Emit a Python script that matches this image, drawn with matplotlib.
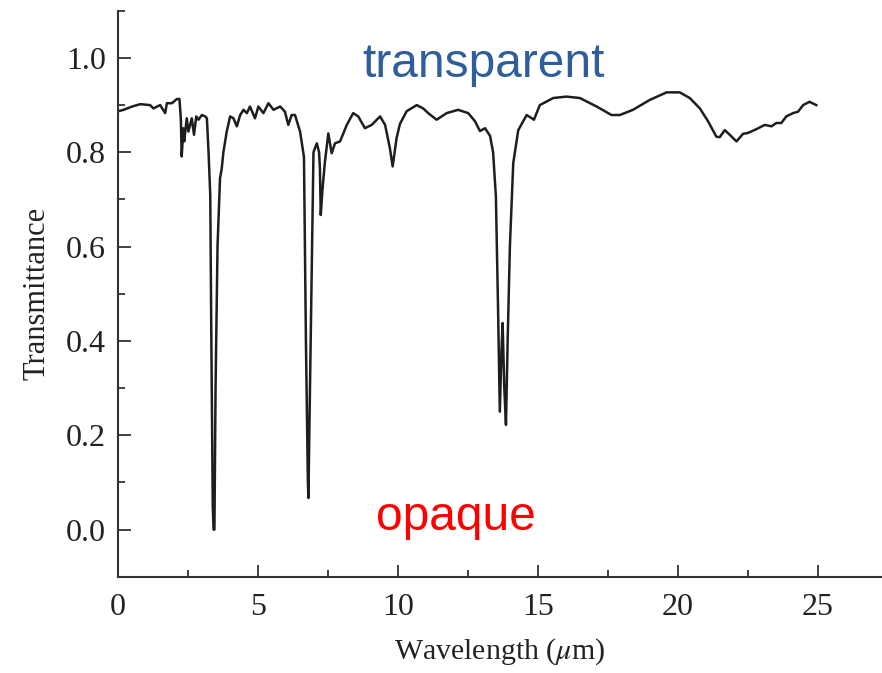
import matplotlib
matplotlib.use("Agg")
import matplotlib.pyplot as plt
from matplotlib.ticker import MultipleLocator

plt.rcParams["mathtext.fontset"] = "stix"

# --- DATA ---
wavelength = [
    0.07, 0.19, 0.50, 0.79, 1.14, 1.26, 1.50, 1.68, 1.74, 1.92, 2.10, 2.19,
    2.24, 2.27, 2.33, 2.36, 2.45, 2.51, 2.63, 2.71, 2.79, 2.87, 2.99, 3.11,
    3.17, 3.23, 3.29, 3.33, 3.38, 3.41, 3.44, 3.48, 3.55, 3.64, 3.70, 3.76,
    3.88, 4.00, 4.12, 4.24, 4.36, 4.48, 4.60, 4.71, 4.89, 5.01, 5.19, 5.37,
    5.55, 5.79, 5.96, 6.08, 6.20, 6.32, 6.50, 6.64, 6.71, 6.78, 6.80, 6.83,
    6.88, 6.98, 7.10, 7.18, 7.21, 7.24, 7.30, 7.39, 7.51, 7.63, 7.75, 7.93,
    8.17, 8.40, 8.58, 8.82, 9.06, 9.36, 9.54, 9.71, 9.81, 9.95, 10.07, 10.31,
    10.67, 10.90, 11.08, 11.38, 11.74, 12.15, 12.51, 12.75, 12.93, 13.11,
    13.29, 13.40, 13.50, 13.58, 13.64, 13.70, 13.74, 13.80, 13.86, 13.92,
    14.00, 14.12, 14.30, 14.60, 14.86, 15.07, 15.55, 16.02, 16.50, 17.10,
    17.63, 17.93, 18.40, 19.00, 19.60, 20.07, 20.43, 20.79, 21.08, 21.38,
    21.50, 21.68, 21.86, 22.10, 22.33, 22.51, 22.81, 23.11, 23.35, 23.52,
    23.70, 23.88, 24.12, 24.30, 24.48, 24.71, 24.95,
]
transmittance = [
    0.888, 0.890, 0.897, 0.902, 0.900, 0.893, 0.900, 0.883, 0.904, 0.904, 0.913, 0.913,
    0.870, 0.791, 0.851, 0.823, 0.872, 0.844, 0.872, 0.837, 0.876, 0.869, 0.879, 0.876,
    0.872, 0.800, 0.710, 0.400, 0.050, 0.000, 0.000, 0.300, 0.600, 0.745, 0.765, 0.800,
    0.844, 0.876, 0.872, 0.855, 0.879, 0.890, 0.883, 0.897, 0.872, 0.897, 0.883, 0.904,
    0.890, 0.897, 0.886, 0.858, 0.879, 0.879, 0.844, 0.790, 0.400, 0.100, 0.067, 0.200,
    0.400, 0.800, 0.819, 0.800, 0.766, 0.667, 0.720, 0.780, 0.840, 0.798, 0.819, 0.823,
    0.858, 0.883, 0.876, 0.851, 0.858, 0.876, 0.858, 0.809, 0.770, 0.830, 0.860, 0.887,
    0.900, 0.893, 0.883, 0.869, 0.883, 0.890, 0.883, 0.866, 0.845, 0.851,
    0.835, 0.800, 0.706, 0.459, 0.250, 0.380, 0.438, 0.300, 0.222, 0.400,
    0.600, 0.777, 0.847, 0.879, 0.869, 0.900, 0.915, 0.918, 0.915, 0.897,
    0.879, 0.879, 0.890, 0.911, 0.927, 0.927, 0.915, 0.893, 0.866, 0.833,
    0.832, 0.847, 0.837, 0.823, 0.839, 0.841, 0.849, 0.858, 0.855, 0.862,
    0.862, 0.876, 0.883, 0.886, 0.900, 0.907, 0.900,
]
x_ticks = [0, 5, 10, 15, 20, 25]
y_ticks = [0.0, 0.2, 0.4, 0.6, 0.8, 1.0]

AXIS_COLOR = "#333333"
SERIF = "Liberation Serif"

fig = plt.figure(figsize=(8.82, 6.73), dpi=100)
ax = fig.add_axes([0.134, 0.143, 0.866, 0.841])

ax.plot(wavelength, transmittance, color="#1e1e1e", lw=1.8)

ax.set_xlim(0, 27.3)
ax.set_ylim(-0.1, 1.1)
ax.set_xticks(x_ticks)
ax.set_yticks(y_ticks)
ax.set_yticklabels([f"{v:.1f}" for v in y_ticks])
ax.xaxis.set_minor_locator(MultipleLocator(2.5))
ax.yaxis.set_minor_locator(MultipleLocator(0.1))

for side in ("top", "right"):
    ax.spines[side].set_visible(False)
for side in ("left", "bottom"):
    ax.spines[side].set_color(AXIS_COLOR)
    ax.spines[side].set_linewidth(1.5)

ax.tick_params(which="both", direction="in", color=AXIS_COLOR, width=1.3)
ax.tick_params(which="major", length=9, labelsize=23, labelcolor="#222222")
ax.tick_params(which="minor", length=5)
ax.tick_params(axis="x", which="major", pad=12)
ax.tick_params(axis="y", which="major", pad=9)
for lab in ax.get_xticklabels() + ax.get_yticklabels():
    lab.set_fontfamily(SERIF)

ax.set_xlabel("Wavelength ($\\mu$m)", fontfamily=SERIF, fontsize=21.5,
              color="#222222", labelpad=10)
ax.set_ylabel("Transmittance", fontfamily=SERIF, fontsize=22,
              color="#222222", labelpad=10)

ax.text(13.05, 0.96, "transparent", color="#2e5e9c", fontsize=34.5,
        fontfamily="Liberation Sans", ha="center", va="baseline")
ax.text(12.07, 0.0, "opaque", color="#ff0000", fontsize=34.5,
        fontfamily="Liberation Sans", ha="center", va="baseline")

fig.savefig("out.png", dpi=100)
